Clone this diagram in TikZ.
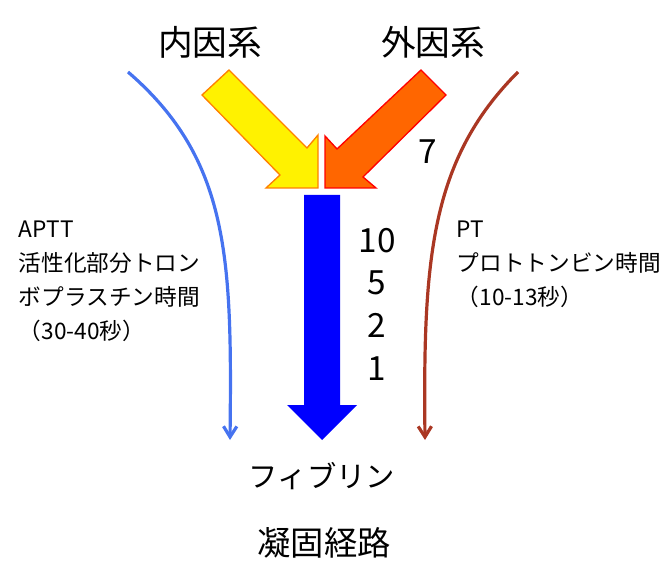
\documentclass[tikz,border=0pt]{standalone}
\usepackage{fontspec}
\setmainfont{Noto Sans CJK JP}
\usetikzlibrary{arrows.meta}
\definecolor{kblue}{RGB}{70,115,240}
\definecolor{kred}{RGB}{170,55,35}
\definecolor{korange}{RGB}{255,102,0}
\begin{document}
\begin{tikzpicture}[x=0.75pt, y=-0.75pt, thick,
    title/.style = {font=\fontsize{26}{30}\selectfont},
    label/.style = {font=\fontsize{17}{25.5}\selectfont, align=left, anchor=north west},
    num/.style = {font=\fontsize{25}{30}\selectfont}
    ]
\useasboundingbox (0,0) rectangle (666,580);

\node[title] (in) at (210,42) {内因系};
\node[title] (ex) at (433,42) {外因系};

% block arrows
\draw[orange, line width=1pt, fill=yellow] (229,70) -- (307,148) -- (318,135) -- (318,188) -- (266,188) -- (280,175) -- (202,95) -- cycle;
\draw[red, line width=1pt, fill=korange] (421,70) -- (446,95) -- (363,177) -- (376,188) -- (325,188) -- (325,136) -- (337,149) -- cycle;
\fill[blue] (304,195) -- (340,195) -- (340,405) -- (357,405) -- (322,440) -- (287,405) -- (304,405) -- cycle;

\node[num] (n7) at (428,152) {7};
\node[num, align=center, font=\fontsize{25}{32}\selectfont] (nums) at (377,304) {10\\5\\2\\1};

\coordinate (a1) at (128,72);
\coordinate (a2) at (230,440);
\coordinate (b1) at (518,72);
\coordinate (b2) at (425,440);
\draw[kblue, line width=2.4pt, -{Straight Barb[length=8pt,width=10pt]}] (a1) .. controls (230,160) and (232,260) .. (a2);
\draw[kred, line width=2.4pt, -{Straight Barb[length=8pt,width=10pt]}] (b1) .. controls (430,160) and (423,260) .. (b2);

\node[label] (aptt) at (14,216) {APTT\\活性化部分トロン\\ボプラスチン時間\\（30-40秒）};
\node[label] (pt) at (452,216) {PT\\プロトトンビン時間\\（10-13秒）};

\node[title, font=\fontsize{22}{26}\selectfont] (fib) at (322,476) {フィブリン};
\node[title, font=\fontsize{25}{28}\selectfont] (path) at (324,543) {凝固経路};
\end{tikzpicture}
\end{document}
